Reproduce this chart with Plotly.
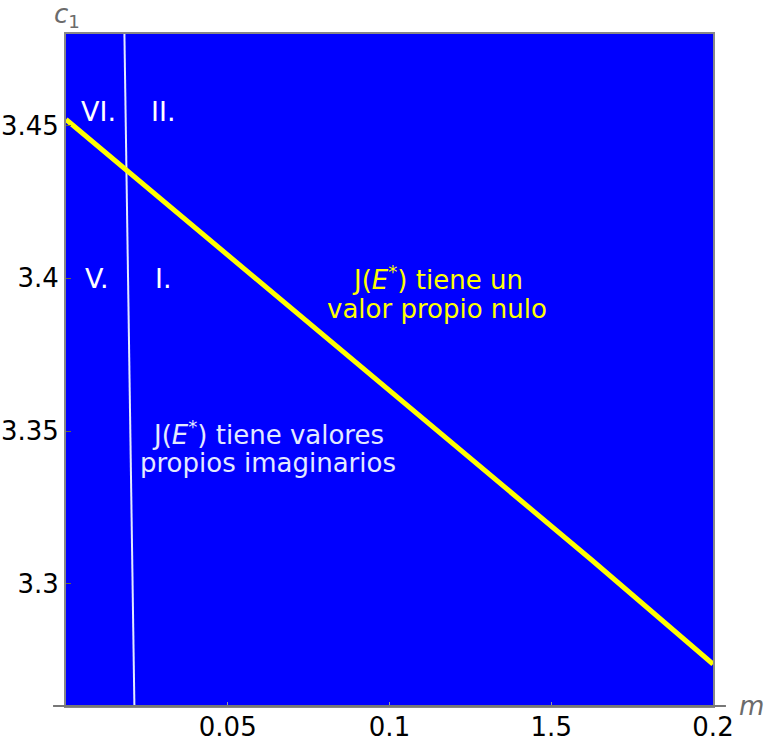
import plotly.graph_objects as go

# ---- data ----
m_zero = [0.0, 0.0353, 0.0631, 0.1279, 0.1625, 0.2]
c1_zero = [3.452, 3.4206, 3.3962, 3.3381, 3.3078, 3.2737]

m_imag = [0.01806, 0.0197, 0.02114]
c1_imag = [3.48, 3.37, 3.26]

x_tickvals = [0.05, 0.1, 0.15, 0.2]
x_ticktext = ["0.05", "0.1", "1.5", "0.2"]
y_tickvals = [3.3, 3.35, 3.4, 3.45]
y_ticktext = ["3.3", "3.35", "3.4", "3.45"]

region_labels = ["VI.", "II.", "V.", "I."]
region_m = [0.0100, 0.0301, 0.0097, 0.0301]
region_c1 = [3.4547, 3.4547, 3.3998, 3.3998]

note_zero_lines = ["J(<i>E</i><sup>*</sup>) tiene un", "valor propio nulo"]
note_zero_m = [0.1147, 0.1147]
note_zero_c1 = [3.4002, 3.3900]
note_imag_lines = ["J(<i>E</i><sup>*</sup>) tiene valores", "propios imaginarios"]
note_imag_m = [0.0625, 0.0625]
note_imag_c1 = [3.3495, 3.3397]

FONT = "DejaVu Sans, Liberation Sans, Arial, sans-serif"
YELLOW = "#ffff00"
PALE = "#e4eaff"

fig = go.Figure()
fig.add_trace(go.Scatter(x=m_imag, y=c1_imag, mode="lines",
                         line=dict(color=PALE, width=2),
                         hoverinfo="skip", showlegend=False))
fig.add_trace(go.Scatter(x=m_zero, y=c1_zero, mode="lines",
                         line=dict(color=YELLOW, width=5),
                         hoverinfo="skip", showlegend=False, cliponaxis=False))

annotations = []
for t, xm, yc in zip(region_labels, region_m, region_c1):
    annotations.append(dict(x=xm, y=yc, text=t, showarrow=False,
                            font=dict(family=FONT, size=27, color="white"),
                            xanchor="center", yanchor="middle"))
for t, xm, yc in zip(note_zero_lines, note_zero_m, note_zero_c1):
    annotations.append(dict(x=xm, y=yc, text=t, showarrow=False,
                            font=dict(family=FONT, size=26, color=YELLOW),
                            xanchor="center", yanchor="middle"))
for t, xm, yc in zip(note_imag_lines, note_imag_m, note_imag_c1):
    annotations.append(dict(x=xm, y=yc, text=t, showarrow=False,
                            font=dict(family=FONT, size=26, color=PALE),
                            xanchor="center", yanchor="middle"))
annotations.append(dict(xref="paper", yref="paper", x=0.002, y=1.028,
                        text="<i>c</i><sub>1</sub>", showarrow=False,
                        font=dict(family=FONT, size=26, color="#6b6b6b"),
                        xanchor="center", yanchor="middle"))
annotations.append(dict(xref="paper", yref="paper", x=1.059, y=0.0,
                        text="<i>m</i>", showarrow=False,
                        font=dict(family=FONT, size=26, color="#6b6b6b"),
                        xanchor="center", yanchor="middle"))

fig.update_layout(
    width=764, height=742,
    margin=dict(l=66, r=51, t=34, b=36),
    paper_bgcolor="white",
    plot_bgcolor="#0000ff",
    annotations=annotations,
    shapes=[dict(type="line", xref="paper", yref="paper",
                 x0=-0.020, x1=1.020, y0=0, y1=0,
                 line=dict(color="#777777", width=2))],
    xaxis=dict(range=[0, 0.2], tickvals=x_tickvals, ticktext=x_ticktext,
               ticks="inside", ticklen=4, tickcolor="#999999",
               ticklabelstandoff=-3,
               showgrid=False, zeroline=False,
               showline=True, linecolor="#888888", linewidth=2, mirror=True,
               tickfont=dict(family=FONT, size=26, color="black"),
               automargin=False),
    yaxis=dict(range=[3.26, 3.48], tickvals=y_tickvals, ticktext=y_ticktext,
               ticks="inside", ticklen=5, tickcolor="#6b6b3a",
               showgrid=False, zeroline=False,
               showline=True, linecolor="#888888", linewidth=2, mirror=True,
               tickfont=dict(family=FONT, size=26, color="black"),
               automargin=False),
)

fig.write_html("out.html",
               config={"displayModeBar": False},
               post_script="document.body.style.margin='0';document.body.style.padding='0';")
